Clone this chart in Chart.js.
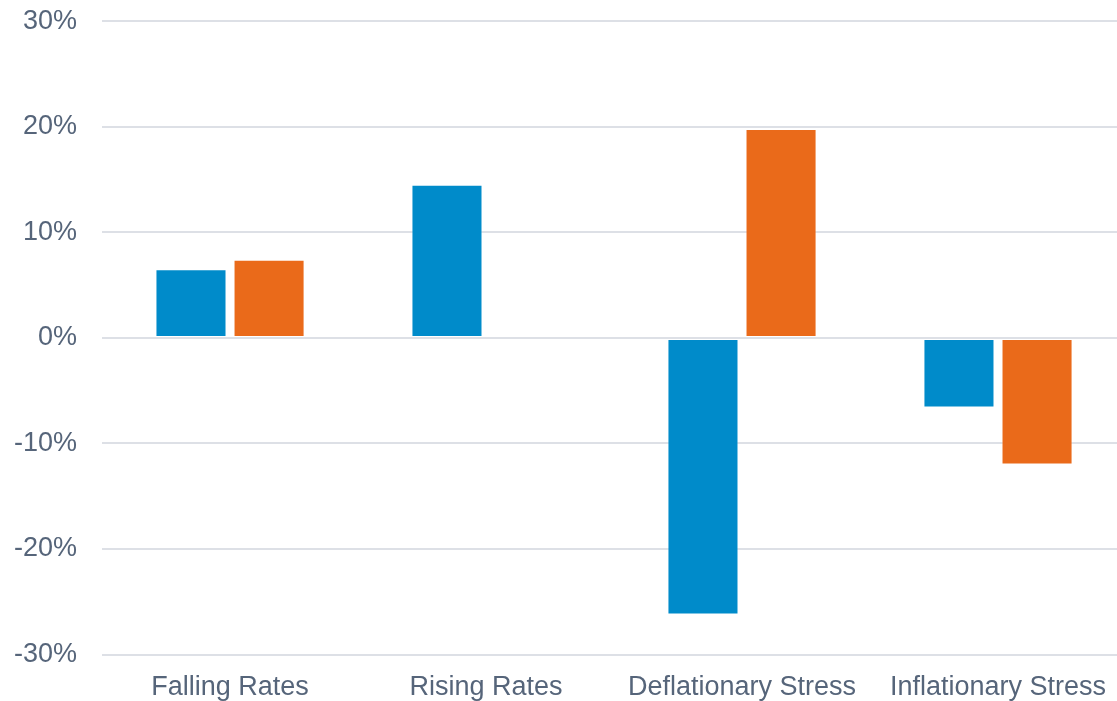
<!DOCTYPE html>
<html>
<head>
<meta charset="utf-8">
<script src="https://cdn.jsdelivr.net/npm/chart.js@4/dist/chart.umd.min.js"></script>
<style>
    html, body { margin: 0; padding: 0; background: #fff; overflow: hidden; }
    #wrap { width: 1126px; height: 721px; position: relative; margin-top: -20px; }
</style>
</head>
<body>
<div id="wrap"><canvas id="graficoCenarios"></canvas></div>
<script>
// scenario returns, in percent
const cenarios = ["Falling Rates", "Rising Rates", "Deflationary Stress", "Inflationary Stress"];
const serieAzul = [6.5, 14.5, -26.2, -6.6];
const serieLaranja = [7.4, -0.1, 19.8, -12.0];
const ticksY = [-30, -20, -10, 0, 10, 20, 30];

const corTexto = "#56657a";
const corGrade = "#dde0e6";
const fonte = { family: "Liberation Sans, Arial", size: 27 };

// very small bars get no border so the fill stays visible
const bordaBarra = c => Math.abs(c.raw) < 0.5 ? 0 : 1;

document.addEventListener("DOMContentLoaded", () => {
    const ctx = document.getElementById("graficoCenarios").getContext("2d");

    new Chart(ctx, {
        type: "bar",
        data: {
            labels: cenarios,
            datasets: [{
                data: serieAzul,
                backgroundColor: "#008bca",
                borderColor: "rgba(255, 255, 255, 0.35)",
                borderWidth: bordaBarra,
                borderSkipped: false
            }, {
                data: serieLaranja,
                backgroundColor: "#ea6a1a",
                borderColor: "rgba(255, 255, 255, 0.35)",
                borderWidth: bordaBarra,
                borderSkipped: false
            }]
        },
        options: {
            responsive: true,
            maintainAspectRatio: false,
            animation: false,
            categoryPercentage: 0.61,
            barPercentage: 0.91,
            layout: { padding: { left: -11, top: 0, right: 0, bottom: -20 } },
            plugins: {
                legend: { display: false },
                tooltip: { enabled: false }
            },
            scales: {
                x: {
                    grid: { display: false, drawTicks: false },
                    border: { display: false },
                    ticks: {
                        color: corTexto,
                        font: fonte,
                        padding: 17,
                        maxRotation: 0
                    }
                },
                y: {
                    min: -30,
                    max: 30,
                    afterBuildTicks: axis => {
                        axis.ticks = ticksY.map(v => ({ value: v }));
                    },
                    grid: { color: corGrade, lineWidth: 2, drawTicks: false },
                    border: { display: false },
                    ticks: {
                        color: corTexto,
                        font: fonte,
                        padding: 25,
                        callback: v => v + "%"
                    }
                }
            }
        }
    });
});
</script>
</body>
</html>
